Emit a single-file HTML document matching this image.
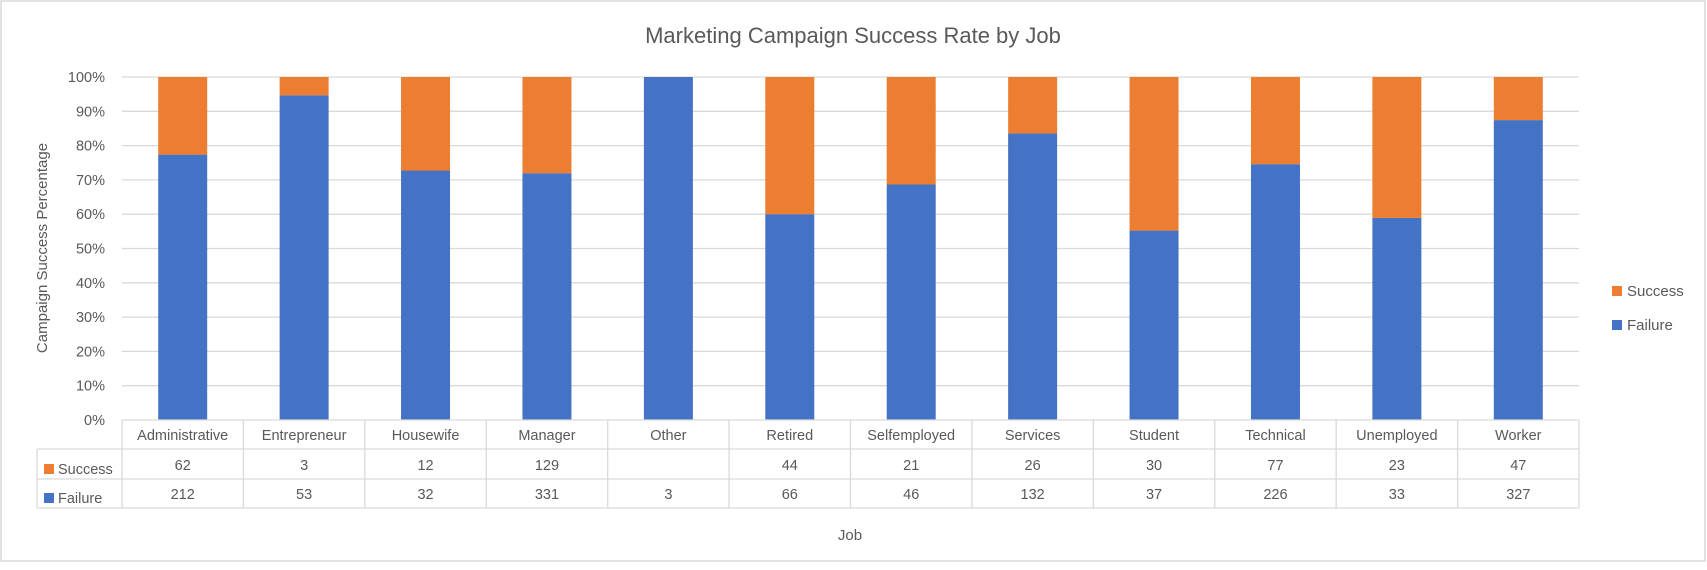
<!DOCTYPE html>
<html><head><meta charset="utf-8"><style>
body{margin:0;background:#fff;}
svg{display:block;font-family:"Liberation Sans",sans-serif;}
</style></head><body>
<svg id="c" width="1707" height="570">
<rect x="1" y="1" width="1704" height="560" fill="#fff" stroke="#D9D9D9" stroke-width="1.5"/>
<text x="853" y="43" text-anchor="middle" font-size="22" fill="#595959">Marketing Campaign Success Rate by Job</text>
<text transform="translate(47,248) rotate(-90)" text-anchor="middle" font-size="15" fill="#595959">Campaign Success Percentage</text>
<text x="850" y="540" text-anchor="middle" font-size="15" fill="#595959">Job</text>
<g id="g"></g>
<g>
<rect x="1612" y="286" width="10" height="10" fill="#ED7D31"/>
<text x="1627" y="296" font-size="15" fill="#595959">Success</text>
<rect x="1612" y="320" width="10" height="10" fill="#4472C4"/>
<text x="1627" y="330" font-size="15" fill="#595959">Failure</text>
</g>
</svg>
<script>
const categories=["Administrative","Entrepreneur","Housewife","Manager","Other","Retired","Selfemployed","Services","Student","Technical","Unemployed","Worker"];
const success=[62,3,12,129,null,44,21,26,30,77,23,47];
const failure=[212,53,32,331,3,66,46,132,37,226,33,327];
const yTicks=[0,10,20,30,40,50,60,70,80,90,100];
const NS="http://www.w3.org/2000/svg";
const g=document.getElementById('g');
const L=122,R=1579,T=77,B=420;
const cw=(R-L)/categories.length;
const y=p=>B-(B-T)*p/100;
function mk(t,a,txt){const e=document.createElementNS(NS,t);for(const k in a)e.setAttribute(k,a[k]);if(txt!=null)e.textContent=txt;g.appendChild(e);return e;}
yTicks.forEach(v=>{
  if(v>0){const l=mk('line',{x1:L,x2:R,y1:y(v),y2:y(v),stroke:'#D9D9D9','stroke-width':1.3});
  
  }
  const t=mk('text',{x:105,y:y(v)+5,'text-anchor':'end','font-size':14.5,fill:'#595959'},v+'%');
  
  
});
categories.forEach((c,i)=>{
  const s=success[i]||0,f=failure[i]||0,tot=s+f;
  const fp=tot?f/tot*100:0;
  const cx=L+cw*(i+0.5),bw=49;
  const rf=mk('rect',{x:cx-bw/2,y:y(fp),width:bw,height:B-y(fp),fill:'#4472C4'});
  
  
  const rs=mk('rect',{x:cx-bw/2,y:y(100),width:bw,height:y(fp)-y(100),fill:'#ED7D31'});
  
  
  const t1=mk('text',{x:cx,y:440,'text-anchor':'middle','font-size':14.5,fill:'#595959'},c);
  
  
  const t2=mk('text',{x:cx,y:470,'text-anchor':'middle','font-size':14.5,fill:'#595959'},success[i]==null?'':success[i]);
  
  
  const t3=mk('text',{x:cx,y:499,'text-anchor':'middle','font-size':14.5,fill:'#595959'},failure[i]==null?'':failure[i]);
  
  
});
// table grid
const st={stroke:'#D9D9D9','stroke-width':1.3};
function ln(x1,y1,x2,y2){const l=mk('line',Object.assign({x1,y1,x2,y2},st));

}
ln(L,B,R,B);ln(37,449,R,449);ln(37,479,R,479);ln(37,508,R,508);
ln(37,449,37,508);
for(let i=0;i<=categories.length;i++){ln(L+cw*i,B,L+cw*i,508);}
const ls=mk('rect',{x:44,y:464,width:10,height:10,fill:'#ED7D31'});


const lst=mk('text',{x:58,y:474,'font-size':14.5,fill:'#595959'},'Success');


const lf=mk('rect',{x:44,y:493,width:10,height:10,fill:'#4472C4'});


const lft=mk('text',{x:58,y:503,'font-size':14.5,fill:'#595959'},'Failure');


</script>
</body></html>
